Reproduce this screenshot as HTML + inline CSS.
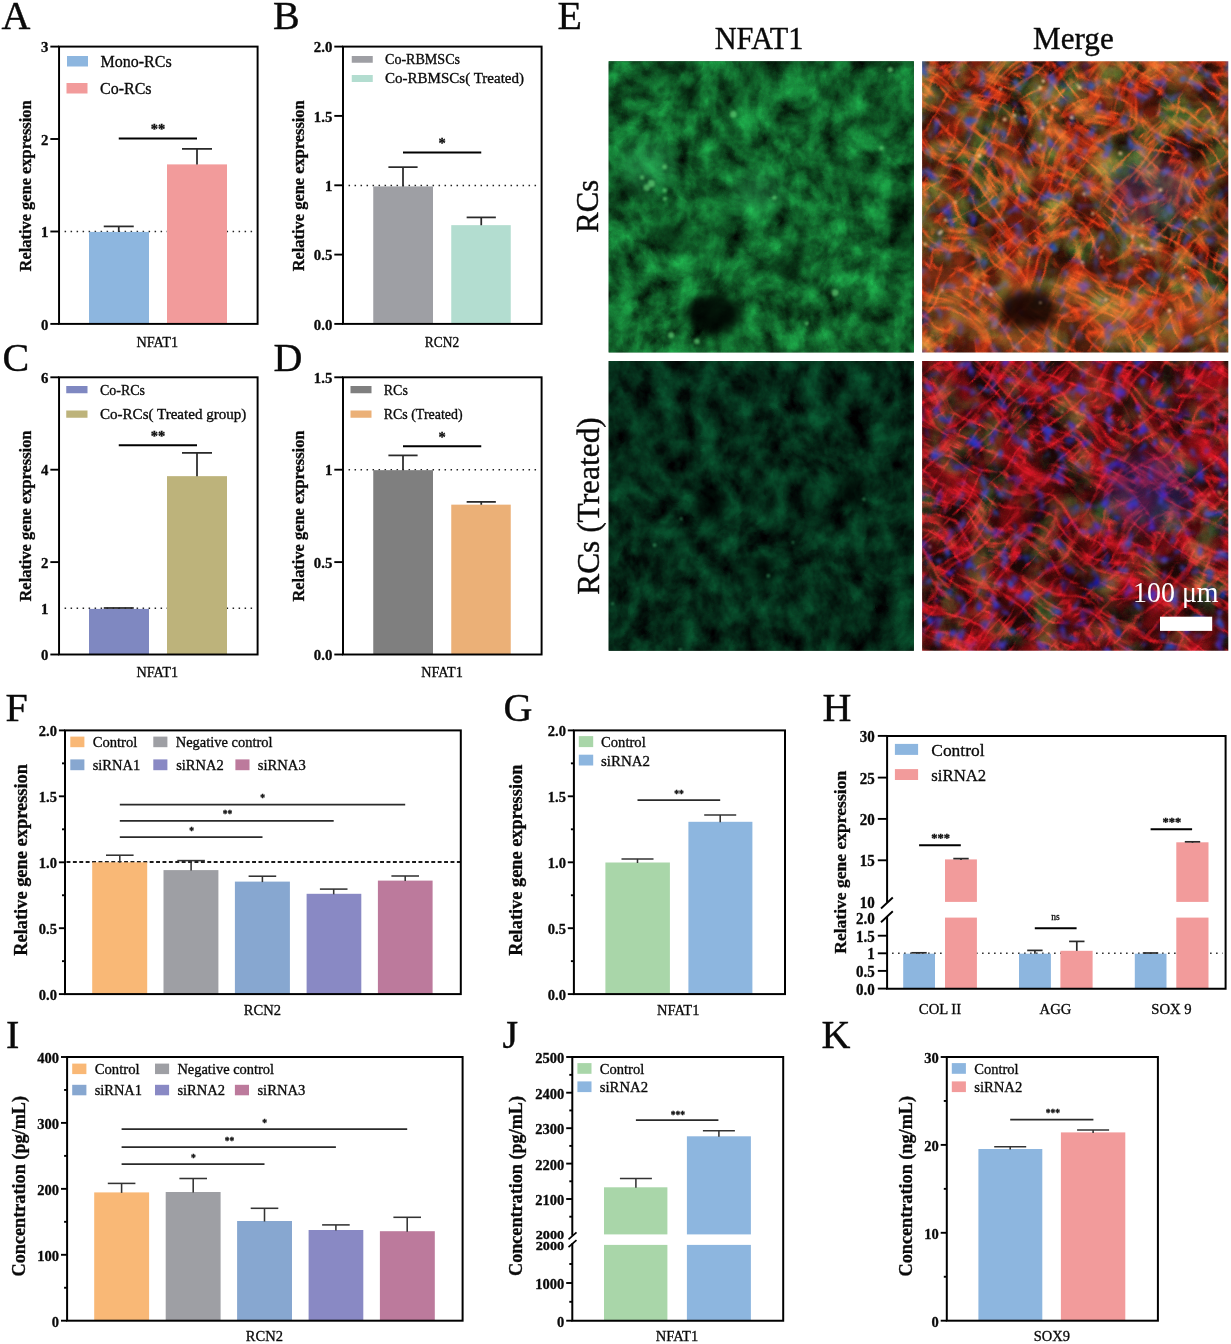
<!DOCTYPE html>
<html lang="en"><head><meta charset="utf-8"><title>Figure</title>
<style>html,body{margin:0;padding:0;background:#fff}svg{display:block;will-change:transform}text{font-family:'Liberation Serif','Noto Serif CJK SC',serif;white-space:pre}</style></head>
<body>
<svg width="1231" height="1344" viewBox="0 0 1231 1344">
<rect width="1231" height="1344" fill="#fff"/>
<text x="1.6" y="28.6" font-size="40" fill="#0a0a0a" stroke="#0a0a0a" stroke-width="0.4">A</text>
<text x="273" y="28.6" font-size="40" fill="#0a0a0a" stroke="#0a0a0a" stroke-width="0.4">B</text>
<text x="557.6" y="28.7" font-size="40" fill="#0a0a0a" stroke="#0a0a0a" stroke-width="0.4">E</text>
<text x="2.4" y="371.2" font-size="40" fill="#0a0a0a" stroke="#0a0a0a" stroke-width="0.4">C</text>
<text x="273.4" y="371.2" font-size="40" fill="#0a0a0a" stroke="#0a0a0a" stroke-width="0.4">D</text>
<text x="5.4" y="721" font-size="40" fill="#0a0a0a" stroke="#0a0a0a" stroke-width="0.4">F</text>
<text x="503.4" y="721" font-size="40" fill="#0a0a0a" stroke="#0a0a0a" stroke-width="0.4">G</text>
<text x="822.6" y="721.3" font-size="40" fill="#0a0a0a" stroke="#0a0a0a" stroke-width="0.4">H</text>
<text x="6" y="1047.7" font-size="40" fill="#0a0a0a" stroke="#0a0a0a" stroke-width="0.4">I</text>
<text x="502.6" y="1047.7" font-size="40" fill="#0a0a0a" stroke="#0a0a0a" stroke-width="0.4">J</text>
<text x="821.4" y="1047.7" font-size="40" fill="#0a0a0a" stroke="#0a0a0a" stroke-width="0.4">K</text>
<line x1="64.6" y1="231.5" x2="254.6" y2="231.5" stroke="#222" stroke-width="1.6" stroke-dasharray="1.5 4.5"/>
<rect x="89" y="231.9" width="60" height="92" fill="#8db6df"/>
<rect x="167" y="164.4" width="60" height="159.5" fill="#f29b9b"/>
<line x1="118.75" y1="226.4" x2="118.75" y2="232" stroke="#2a2a2a" stroke-width="1.75"/>
<line x1="103.75" y1="226.4" x2="133.75" y2="226.4" stroke="#2a2a2a" stroke-width="1.75"/>
<line x1="197" y1="148.9" x2="197" y2="164.5" stroke="#2a2a2a" stroke-width="1.75"/>
<line x1="182" y1="148.9" x2="212" y2="148.9" stroke="#2a2a2a" stroke-width="1.75"/>
<line x1="118.75" y1="138.5" x2="197" y2="138.5" stroke="#000" stroke-width="2.1"/>
<text x="158" y="133.55" font-size="14.5" font-weight="bold" text-anchor="middle" fill="#0a0a0a" stroke="#0a0a0a" stroke-width="0.32">**</text>
<rect x="59.05" y="46.6" width="198.55" height="277.3" fill="none" stroke="#000" stroke-width="1.95"/>
<line x1="50.35" y1="46.6" x2="59.05" y2="46.6" stroke="#000" stroke-width="1.9"/>
<text x="48.35" y="52.2" font-size="14.8" font-weight="bold" text-anchor="end" textLength="7.4" lengthAdjust="spacingAndGlyphs" fill="#0a0a0a" stroke="#0a0a0a" stroke-width="0.32">3</text>
<line x1="50.35" y1="139" x2="59.05" y2="139" stroke="#000" stroke-width="1.9"/>
<text x="48.35" y="144.6" font-size="14.8" font-weight="bold" text-anchor="end" textLength="7.4" lengthAdjust="spacingAndGlyphs" fill="#0a0a0a" stroke="#0a0a0a" stroke-width="0.32">2</text>
<line x1="50.35" y1="231.5" x2="59.05" y2="231.5" stroke="#000" stroke-width="1.9"/>
<text x="48.35" y="237.1" font-size="14.8" font-weight="bold" text-anchor="end" textLength="7.4" lengthAdjust="spacingAndGlyphs" fill="#0a0a0a" stroke="#0a0a0a" stroke-width="0.32">1</text>
<line x1="50.35" y1="323.9" x2="59.05" y2="323.9" stroke="#000" stroke-width="1.9"/>
<text x="48.35" y="329.5" font-size="14.8" font-weight="bold" text-anchor="end" textLength="7.4" lengthAdjust="spacingAndGlyphs" fill="#0a0a0a" stroke="#0a0a0a" stroke-width="0.32">0</text>
<rect x="67" y="56" width="21" height="10.5" fill="#8db6df"/>
<text x="100.5" y="67" font-size="16" fill="#0a0a0a" stroke="#0a0a0a" stroke-width="0.32">Mono-RCs</text>
<rect x="66.5" y="83" width="21" height="10.5" fill="#f29b9b"/>
<text x="100" y="94" font-size="16" fill="#0a0a0a" stroke="#0a0a0a" stroke-width="0.32">Co-RCs</text>
<text x="157.2" y="347" font-size="14" text-anchor="middle" textLength="41.6" lengthAdjust="spacingAndGlyphs" fill="#0a0a0a" stroke="#0a0a0a" stroke-width="0.32">NFAT1</text>
<text x="26.2" y="185.9" font-size="16.2" font-weight="bold" text-anchor="middle" textLength="171" lengthAdjust="spacingAndGlyphs" transform="rotate(-90 26.2 185.9)" fill="#0a0a0a" stroke="#0a0a0a" stroke-width="0.32" dominant-baseline="auto" dy="4.86">Relative gene expression</text>
<line x1="348.55" y1="185.5" x2="538.6" y2="185.5" stroke="#222" stroke-width="1.6" stroke-dasharray="1.5 4.5"/>
<rect x="373.25" y="186.4" width="59.75" height="137.5" fill="#9e9fa4"/>
<rect x="451.25" y="225.15" width="59.5" height="98.75" fill="#b3ddd0"/>
<line x1="403" y1="167.15" x2="403" y2="186.5" stroke="#2a2a2a" stroke-width="1.75"/>
<line x1="388.4" y1="167.15" x2="417.6" y2="167.15" stroke="#2a2a2a" stroke-width="1.75"/>
<line x1="481.25" y1="217.4" x2="481.25" y2="225.25" stroke="#2a2a2a" stroke-width="1.75"/>
<line x1="466.65" y1="217.4" x2="495.85" y2="217.4" stroke="#2a2a2a" stroke-width="1.75"/>
<line x1="403" y1="152.5" x2="481.25" y2="152.5" stroke="#000" stroke-width="2.1"/>
<text x="442" y="147.85" font-size="14.5" font-weight="bold" text-anchor="middle" fill="#0a0a0a" stroke="#0a0a0a" stroke-width="0.32">*</text>
<rect x="343" y="46.6" width="198.6" height="277.3" fill="none" stroke="#000" stroke-width="1.95"/>
<line x1="334.3" y1="46.6" x2="343" y2="46.6" stroke="#000" stroke-width="1.9"/>
<text x="332.3" y="52.2" font-size="14.8" font-weight="bold" text-anchor="end" textLength="18.5" lengthAdjust="spacingAndGlyphs" fill="#0a0a0a" stroke="#0a0a0a" stroke-width="0.32">2.0</text>
<line x1="334.3" y1="115.9" x2="343" y2="115.9" stroke="#000" stroke-width="1.9"/>
<text x="332.3" y="121.5" font-size="14.8" font-weight="bold" text-anchor="end" textLength="18.5" lengthAdjust="spacingAndGlyphs" fill="#0a0a0a" stroke="#0a0a0a" stroke-width="0.32">1.5</text>
<line x1="334.3" y1="185.3" x2="343" y2="185.3" stroke="#000" stroke-width="1.9"/>
<text x="332.3" y="190.9" font-size="14.8" font-weight="bold" text-anchor="end" textLength="7.4" lengthAdjust="spacingAndGlyphs" fill="#0a0a0a" stroke="#0a0a0a" stroke-width="0.32">1</text>
<line x1="334.3" y1="254.6" x2="343" y2="254.6" stroke="#000" stroke-width="1.9"/>
<text x="332.3" y="260.2" font-size="14.8" font-weight="bold" text-anchor="end" textLength="18.5" lengthAdjust="spacingAndGlyphs" fill="#0a0a0a" stroke="#0a0a0a" stroke-width="0.32">0.5</text>
<line x1="334.3" y1="323.9" x2="343" y2="323.9" stroke="#000" stroke-width="1.9"/>
<text x="332.3" y="329.5" font-size="14.8" font-weight="bold" text-anchor="end" textLength="18.5" lengthAdjust="spacingAndGlyphs" fill="#0a0a0a" stroke="#0a0a0a" stroke-width="0.32">0.0</text>
<rect x="351.75" y="56" width="21" height="6.75" fill="#9e9fa4"/>
<text x="385" y="64" font-size="14" textLength="75" lengthAdjust="spacingAndGlyphs" fill="#0a0a0a" stroke="#0a0a0a" stroke-width="0.32">Co-RBMSCs</text>
<rect x="351.75" y="75" width="21" height="7" fill="#b3ddd0"/>
<text x="385" y="83" font-size="14" textLength="139" lengthAdjust="spacingAndGlyphs" fill="#0a0a0a" stroke="#0a0a0a" stroke-width="0.32">Co-RBMSCs( Treated)</text>
<text x="442" y="347" font-size="14" text-anchor="middle" textLength="34.4" lengthAdjust="spacingAndGlyphs" fill="#0a0a0a" stroke="#0a0a0a" stroke-width="0.32">RCN2</text>
<text x="298.7" y="185.8" font-size="16.2" font-weight="bold" text-anchor="middle" textLength="171" lengthAdjust="spacingAndGlyphs" transform="rotate(-90 298.7 185.8)" fill="#0a0a0a" stroke="#0a0a0a" stroke-width="0.32" dominant-baseline="auto" dy="4.86">Relative gene expression</text>
<line x1="64.6" y1="608.3" x2="254.6" y2="608.3" stroke="#222" stroke-width="1.6" stroke-dasharray="1.5 4.5"/>
<rect x="89" y="608.9" width="60" height="45.6" fill="#7f88c1"/>
<rect x="167" y="476.15" width="60" height="178.35" fill="#bdb37b"/>
<line x1="118.75" y1="608" x2="118.75" y2="609" stroke="#2a2a2a" stroke-width="1.75"/>
<line x1="103.75" y1="608" x2="133.75" y2="608" stroke="#2a2a2a" stroke-width="1.75"/>
<line x1="197" y1="452.9" x2="197" y2="476.25" stroke="#2a2a2a" stroke-width="1.75"/>
<line x1="182" y1="452.9" x2="212" y2="452.9" stroke="#2a2a2a" stroke-width="1.75"/>
<line x1="118.75" y1="445.25" x2="197" y2="445.25" stroke="#000" stroke-width="2.1"/>
<text x="158" y="440.85" font-size="14.5" font-weight="bold" text-anchor="middle" fill="#0a0a0a" stroke="#0a0a0a" stroke-width="0.32">**</text>
<rect x="59.05" y="377.3" width="198.55" height="277.2" fill="none" stroke="#000" stroke-width="1.95"/>
<line x1="50.35" y1="377.3" x2="59.05" y2="377.3" stroke="#000" stroke-width="1.9"/>
<text x="48.35" y="382.9" font-size="14.8" font-weight="bold" text-anchor="end" textLength="7.4" lengthAdjust="spacingAndGlyphs" fill="#0a0a0a" stroke="#0a0a0a" stroke-width="0.32">6</text>
<line x1="50.35" y1="469.7" x2="59.05" y2="469.7" stroke="#000" stroke-width="1.9"/>
<text x="48.35" y="475.3" font-size="14.8" font-weight="bold" text-anchor="end" textLength="7.4" lengthAdjust="spacingAndGlyphs" fill="#0a0a0a" stroke="#0a0a0a" stroke-width="0.32">4</text>
<line x1="50.35" y1="562.1" x2="59.05" y2="562.1" stroke="#000" stroke-width="1.9"/>
<text x="48.35" y="567.7" font-size="14.8" font-weight="bold" text-anchor="end" textLength="7.4" lengthAdjust="spacingAndGlyphs" fill="#0a0a0a" stroke="#0a0a0a" stroke-width="0.32">2</text>
<line x1="50.35" y1="654.5" x2="59.05" y2="654.5" stroke="#000" stroke-width="1.9"/>
<text x="48.35" y="660.1" font-size="14.8" font-weight="bold" text-anchor="end" textLength="7.4" lengthAdjust="spacingAndGlyphs" fill="#0a0a0a" stroke="#0a0a0a" stroke-width="0.32">0</text>
<text x="48.35" y="613.9" font-size="14.8" font-weight="bold" text-anchor="end" textLength="7.4" lengthAdjust="spacingAndGlyphs" fill="#0a0a0a" stroke="#0a0a0a" stroke-width="0.32">1</text>
<rect x="66.25" y="386" width="21.25" height="7.25" fill="#7f88c1"/>
<text x="100" y="394.5" font-size="14" textLength="45" lengthAdjust="spacingAndGlyphs" fill="#0a0a0a" stroke="#0a0a0a" stroke-width="0.32">Co-RCs</text>
<rect x="66.25" y="410.5" width="21.25" height="7.25" fill="#bdb37b"/>
<text x="100" y="418.5" font-size="14" textLength="146.3" lengthAdjust="spacingAndGlyphs" fill="#0a0a0a" stroke="#0a0a0a" stroke-width="0.32">Co-RCs( Treated group)</text>
<text x="157.2" y="677" font-size="14" text-anchor="middle" textLength="41.6" lengthAdjust="spacingAndGlyphs" fill="#0a0a0a" stroke="#0a0a0a" stroke-width="0.32">NFAT1</text>
<text x="26.2" y="516" font-size="16.2" font-weight="bold" text-anchor="middle" textLength="171" lengthAdjust="spacingAndGlyphs" transform="rotate(-90 26.2 516)" fill="#0a0a0a" stroke="#0a0a0a" stroke-width="0.32" dominant-baseline="auto" dy="4.86">Relative gene expression</text>
<line x1="348.55" y1="469.75" x2="538.6" y2="469.75" stroke="#222" stroke-width="1.6" stroke-dasharray="1.5 4.5"/>
<rect x="373.25" y="470.15" width="59.75" height="184.35" fill="#7f7f7f"/>
<rect x="451.25" y="504.65" width="59.5" height="149.85" fill="#ebb077"/>
<line x1="403" y1="455.4" x2="403" y2="470.25" stroke="#2a2a2a" stroke-width="1.75"/>
<line x1="388.4" y1="455.4" x2="417.6" y2="455.4" stroke="#2a2a2a" stroke-width="1.75"/>
<line x1="481.25" y1="501.9" x2="481.25" y2="504.75" stroke="#2a2a2a" stroke-width="1.75"/>
<line x1="466.65" y1="501.9" x2="495.85" y2="501.9" stroke="#2a2a2a" stroke-width="1.75"/>
<line x1="403" y1="446.25" x2="481.25" y2="446.25" stroke="#000" stroke-width="2.1"/>
<text x="442" y="442.05" font-size="14.5" font-weight="bold" text-anchor="middle" fill="#0a0a0a" stroke="#0a0a0a" stroke-width="0.32">*</text>
<rect x="343" y="377.3" width="198.6" height="277.2" fill="none" stroke="#000" stroke-width="1.95"/>
<line x1="334.3" y1="377.3" x2="343" y2="377.3" stroke="#000" stroke-width="1.9"/>
<text x="332.3" y="382.9" font-size="14.8" font-weight="bold" text-anchor="end" textLength="18.5" lengthAdjust="spacingAndGlyphs" fill="#0a0a0a" stroke="#0a0a0a" stroke-width="0.32">1.5</text>
<line x1="334.3" y1="469.7" x2="343" y2="469.7" stroke="#000" stroke-width="1.9"/>
<text x="332.3" y="475.3" font-size="14.8" font-weight="bold" text-anchor="end" textLength="7.4" lengthAdjust="spacingAndGlyphs" fill="#0a0a0a" stroke="#0a0a0a" stroke-width="0.32">1</text>
<line x1="334.3" y1="562.1" x2="343" y2="562.1" stroke="#000" stroke-width="1.9"/>
<text x="332.3" y="567.7" font-size="14.8" font-weight="bold" text-anchor="end" textLength="18.5" lengthAdjust="spacingAndGlyphs" fill="#0a0a0a" stroke="#0a0a0a" stroke-width="0.32">0.5</text>
<line x1="334.3" y1="654.5" x2="343" y2="654.5" stroke="#000" stroke-width="1.9"/>
<text x="332.3" y="660.1" font-size="14.8" font-weight="bold" text-anchor="end" textLength="18.5" lengthAdjust="spacingAndGlyphs" fill="#0a0a0a" stroke="#0a0a0a" stroke-width="0.32">0.0</text>
<rect x="350.5" y="386" width="21" height="7.25" fill="#7f7f7f"/>
<text x="383.75" y="394.5" font-size="14" fill="#0a0a0a" stroke="#0a0a0a" stroke-width="0.32">RCs</text>
<rect x="350.5" y="410.5" width="21" height="7.25" fill="#ebb077"/>
<text x="383.75" y="418.5" font-size="14" textLength="78.8" lengthAdjust="spacingAndGlyphs" fill="#0a0a0a" stroke="#0a0a0a" stroke-width="0.32">RCs (Treated)</text>
<text x="442" y="677" font-size="14" text-anchor="middle" textLength="41.6" lengthAdjust="spacingAndGlyphs" fill="#0a0a0a" stroke="#0a0a0a" stroke-width="0.32">NFAT1</text>
<text x="298.7" y="516" font-size="16.2" font-weight="bold" text-anchor="middle" textLength="171" lengthAdjust="spacingAndGlyphs" transform="rotate(-90 298.7 516)" fill="#0a0a0a" stroke="#0a0a0a" stroke-width="0.32" dominant-baseline="auto" dy="4.86">Relative gene expression</text>
<defs>
<filter id="fTL" filterUnits="userSpaceOnUse" x="564.6" y="17.2" width="393.3" height="379.2" color-interpolation-filters="sRGB">
<feTurbulence type="fractalNoise" baseFrequency="0.046 0.040" numOctaves="4" seed="11" result="n"/>
<feColorMatrix in="n" type="matrix" values="0.15 0 0 0 -0.01 0.86 0 0 0 -0.06 0.38 0 0 0 -0.03 0 0 0 0 1" result="c"/>
<feTurbulence type="fractalNoise" baseFrequency="0.011" numOctaves="2" seed="14" result="w"/>
<feDisplacementMap in="c" in2="w" scale="24" xChannelSelector="R" yChannelSelector="G" result="d"/>
<feTurbulence type="fractalNoise" baseFrequency="0.85" numOctaves="1" seed="18" result="g"/>
<feColorMatrix in="g" type="matrix" values="0.02 0 0 0 -0.01 0 0.14 0 0 -0.07 0 0 0.06 0 -0.03 0 0 0 0 1" result="gg"/>
<feComposite in="d" in2="gg" operator="arithmetic" k1="0" k2="1" k3="1" k4="0"/>
</filter>
<filter id="fBL" filterUnits="userSpaceOnUse" x="564.6" y="317.1" width="393.3" height="377.7" color-interpolation-filters="sRGB">
<feTurbulence type="fractalNoise" baseFrequency="0.046 0.040" numOctaves="4" seed="29" result="n"/>
<feColorMatrix in="n" type="matrix" values="0.05 0 0 0 -0.01 0.53 0 0 0 -0.1 0.29 0 0 0 -0.05 0 0 0 0 1" result="c"/>
<feTurbulence type="fractalNoise" baseFrequency="0.011" numOctaves="2" seed="32" result="w"/>
<feDisplacementMap in="c" in2="w" scale="24" xChannelSelector="R" yChannelSelector="G" result="d"/>
<feTurbulence type="fractalNoise" baseFrequency="0.85" numOctaves="1" seed="36" result="g"/>
<feColorMatrix in="g" type="matrix" values="0.01 0 0 0 -0 0 0.07 0 0 -0.04 0 0 0.04 0 -0.02 0 0 0 0 1" result="gg"/>
<feComposite in="d" in2="gg" operator="arithmetic" k1="0" k2="1" k3="1" k4="0"/>
</filter>
<filter id="fTRd" filterUnits="userSpaceOnUse" x="878.1" y="17.2" width="394.2" height="379.2" color-interpolation-filters="sRGB">
<feTurbulence type="fractalNoise" baseFrequency="0.026 0.030" numOctaves="4" seed="17" result="n"/>
<feColorMatrix in="n" type="matrix" values="1.01 0 0 0 -0.3 0.2 0 0 0 -0.06 0.08 0 0 0 -0.03 0 0 0 0 1" result="c"/>
<feTurbulence type="fractalNoise" baseFrequency="0.011" numOctaves="2" seed="20" result="w"/>
<feDisplacementMap in="c" in2="w" scale="34" xChannelSelector="R" yChannelSelector="G" result="d"/>
<feTurbulence type="fractalNoise" baseFrequency="0.85" numOctaves="1" seed="24" result="g"/>
<feColorMatrix in="g" type="matrix" values="0.14 0 0 0 -0.07 0 0.03 0 0 -0.01 0 0 0.01 0 -0.01 0 0 0 0 1" result="gg"/>
<feComposite in="d" in2="gg" operator="arithmetic" k1="0" k2="1" k3="1" k4="0"/>
</filter>
<filter id="fTRg" filterUnits="userSpaceOnUse" x="878.1" y="17.2" width="394.2" height="379.2" color-interpolation-filters="sRGB">
<feTurbulence type="fractalNoise" baseFrequency="0.031 0.028" numOctaves="4" seed="11" result="n"/>
<feColorMatrix in="n" type="matrix" values="0.43 0 0 0 -0.15 1 0 0 0 -0.36 0.38 0 0 0 -0.14 0 0 0 0 1" result="c"/>
<feTurbulence type="fractalNoise" baseFrequency="0.011" numOctaves="2" seed="14" result="w"/>
<feDisplacementMap in="c" in2="w" scale="34" xChannelSelector="R" yChannelSelector="G" result="d"/>
<feTurbulence type="fractalNoise" baseFrequency="0.85" numOctaves="1" seed="18" result="g"/>
<feColorMatrix in="g" type="matrix" values="0.05 0 0 0 -0.03 0 0.13 0 0 -0.06 0 0 0.05 0 -0.02 0 0 0 0 1" result="gg"/>
<feComposite in="d" in2="gg" operator="arithmetic" k1="0" k2="1" k3="1" k4="0"/>
</filter>
<filter id="fTRr1" filterUnits="userSpaceOnUse" x="840.2" y="-28.2" width="470" height="470" color-interpolation-filters="sRGB">
<feTurbulence type="turbulence" baseFrequency="0.018 0.062" numOctaves="3" seed="32" result="t"/>
<feColorMatrix in="t" type="matrix" values="-3.3 0 0 0 0.93 -0.56 0 0 0 0.16 -0.17 0 0 0 0.05 0 0 0 0 1" result="c"/>
<feTurbulence type="fractalNoise" baseFrequency="0.013" numOctaves="2" seed="37" result="w"/>
<feDisplacementMap in="c" in2="w" scale="40" xChannelSelector="R" yChannelSelector="G"/>
</filter>
<filter id="fTRr2" filterUnits="userSpaceOnUse" x="840.2" y="-28.2" width="470" height="470" color-interpolation-filters="sRGB">
<feTurbulence type="turbulence" baseFrequency="0.018 0.062" numOctaves="3" seed="57" result="t"/>
<feColorMatrix in="t" type="matrix" values="-3.3 0 0 0 0.83 -0.49 0 0 0 0.12 -0.17 0 0 0 0.04 0 0 0 0 1" result="c"/>
<feTurbulence type="fractalNoise" baseFrequency="0.013" numOctaves="2" seed="62" result="w"/>
<feDisplacementMap in="c" in2="w" scale="40" xChannelSelector="R" yChannelSelector="G"/>
</filter>
<filter id="fTRb" filterUnits="userSpaceOnUse" x="878.1" y="17.2" width="394.2" height="379.2" color-interpolation-filters="sRGB">
<feTurbulence type="fractalNoise" baseFrequency="0.088 0.078" numOctaves="2" seed="51" result="n"/>
<feColorMatrix in="n" type="matrix" values="0.5 0 0 0 -0.01 0 0.5 0 0 0.09 0 0 0.3 0 0.57 0 0 4.4 0 -2.44" result="c"/>
<feTurbulence type="fractalNoise" baseFrequency="0.02" numOctaves="2" seed="56" result="w"/>
<feDisplacementMap in="c" in2="w" scale="14" xChannelSelector="R" yChannelSelector="G" result="d"/>
<feGaussianBlur in="d" stdDeviation="1.7"/>
</filter>
<filter id="fBRd" filterUnits="userSpaceOnUse" x="878.1" y="317.1" width="394.2" height="377.7" color-interpolation-filters="sRGB">
<feTurbulence type="fractalNoise" baseFrequency="0.026 0.030" numOctaves="4" seed="23" result="n"/>
<feColorMatrix in="n" type="matrix" values="1.05 0 0 0 -0.31 0.06 0 0 0 -0.02 0.12 0 0 0 -0.04 0 0 0 0 1" result="c"/>
<feTurbulence type="fractalNoise" baseFrequency="0.011" numOctaves="2" seed="26" result="w"/>
<feDisplacementMap in="c" in2="w" scale="34" xChannelSelector="R" yChannelSelector="G" result="d"/>
<feTurbulence type="fractalNoise" baseFrequency="0.85" numOctaves="1" seed="30" result="g"/>
<feColorMatrix in="g" type="matrix" values="0.14 0 0 0 -0.07 0 0.01 0 0 -0 0 0 0.02 0 -0.01 0 0 0 0 1" result="gg"/>
<feComposite in="d" in2="gg" operator="arithmetic" k1="0" k2="1" k3="1" k4="0"/>
</filter>
<filter id="fBRg" filterUnits="userSpaceOnUse" x="878.1" y="317.1" width="394.2" height="377.7" color-interpolation-filters="sRGB">
<feTurbulence type="fractalNoise" baseFrequency="0.031 0.028" numOctaves="4" seed="29" result="n"/>
<feColorMatrix in="n" type="matrix" values="0.28 0 0 0 -0.13 0.8 0 0 0 -0.36 0.32 0 0 0 -0.14 0 0 0 0 1" result="c"/>
<feTurbulence type="fractalNoise" baseFrequency="0.011" numOctaves="2" seed="32" result="w"/>
<feDisplacementMap in="c" in2="w" scale="34" xChannelSelector="R" yChannelSelector="G" result="d"/>
<feTurbulence type="fractalNoise" baseFrequency="0.85" numOctaves="1" seed="36" result="g"/>
<feColorMatrix in="g" type="matrix" values="0.06 0 0 0 -0.03 0 0.16 0 0 -0.08 0 0 0.06 0 -0.03 0 0 0 0 1" result="gg"/>
<feComposite in="d" in2="gg" operator="arithmetic" k1="0" k2="1" k3="1" k4="0"/>
</filter>
<filter id="fBRr1" filterUnits="userSpaceOnUse" x="840.2" y="270.95" width="470" height="470" color-interpolation-filters="sRGB">
<feTurbulence type="turbulence" baseFrequency="0.018 0.062" numOctaves="3" seed="72" result="t"/>
<feColorMatrix in="t" type="matrix" values="-3.13 0 0 0 0.85 -0.23 0 0 0 0.06 -0.36 0 0 0 0.1 0 0 0 0 1" result="c"/>
<feTurbulence type="fractalNoise" baseFrequency="0.013" numOctaves="2" seed="77" result="w"/>
<feDisplacementMap in="c" in2="w" scale="40" xChannelSelector="R" yChannelSelector="G"/>
</filter>
<filter id="fBRr2" filterUnits="userSpaceOnUse" x="840.2" y="270.95" width="470" height="470" color-interpolation-filters="sRGB">
<feTurbulence type="turbulence" baseFrequency="0.018 0.062" numOctaves="3" seed="93" result="t"/>
<feColorMatrix in="t" type="matrix" values="-3.13 0 0 0 0.76 -0.2 0 0 0 0.05 -0.36 0 0 0 0.09 0 0 0 0 1" result="c"/>
<feTurbulence type="fractalNoise" baseFrequency="0.013" numOctaves="2" seed="98" result="w"/>
<feDisplacementMap in="c" in2="w" scale="40" xChannelSelector="R" yChannelSelector="G"/>
</filter>
<filter id="fBRb" filterUnits="userSpaceOnUse" x="878.1" y="317.1" width="394.2" height="377.7" color-interpolation-filters="sRGB">
<feTurbulence type="fractalNoise" baseFrequency="0.088 0.078" numOctaves="2" seed="88" result="n"/>
<feColorMatrix in="n" type="matrix" values="0.5 0 0 0 -0.05 0 0.5 0 0 -0.01 0 0 0.3 0 0.59 0 0 4.4 0 -2.42" result="c"/>
<feTurbulence type="fractalNoise" baseFrequency="0.02" numOctaves="2" seed="93" result="w"/>
<feDisplacementMap in="c" in2="w" scale="14" xChannelSelector="R" yChannelSelector="G" result="d"/>
<feGaussianBlur in="d" stdDeviation="1.7"/>
</filter>
<filter id="blur12" x="-50%" y="-50%" width="200%" height="200%"><feGaussianBlur stdDeviation="9"/></filter>
<filter id="blur1" x="-5%" y="-5%" width="110%" height="110%"><feGaussianBlur stdDeviation="1.1"/></filter>
<filter id="blur6" x="-50%" y="-50%" width="200%" height="200%"><feGaussianBlur stdDeviation="5"/></filter>
<clipPath id="cpTL"><rect x="608.6" y="61.2" width="305.3" height="291.2"/></clipPath>
<clipPath id="cpTR"><rect x="922.1" y="61.2" width="306.2" height="291.2"/></clipPath>
<clipPath id="cpBL"><rect x="608.6" y="361.1" width="305.3" height="289.7"/></clipPath>
<clipPath id="cpBR"><rect x="922.1" y="361.1" width="306.2" height="289.7"/></clipPath>
</defs>
<g clip-path="url(#cpTL)">
<rect x="608.6" y="61.2" width="305.3" height="291.2" fill="#06351a"/>
<rect x="564.6" y="17.2" width="393.3" height="379.2" fill="#000" filter="url(#fTL)"/>
<ellipse cx="713.93" cy="313.09" rx="27" ry="19" fill="#000" opacity="0.85" filter="url(#blur6)"/>
<ellipse cx="648.29" cy="166.03" rx="26" ry="24" fill="#3fd07a" opacity="0.3" filter="url(#blur12)"/>
<ellipse cx="758.2" cy="192.24" rx="24" ry="18" fill="#3fd07a" opacity="0.28" filter="url(#blur12)"/>
<ellipse cx="904.74" cy="212.62" rx="14" ry="40" fill="#000" opacity="0.4" filter="url(#blur12)"/>
<ellipse cx="669.66" cy="235.92" rx="13" ry="11" fill="#000" opacity="0.5" filter="url(#blur6)"/>
<ellipse cx="782.62" cy="267.95" rx="12" ry="10" fill="#000" opacity="0.45" filter="url(#blur6)"/>
<ellipse cx="687.98" cy="93.23" rx="12" ry="9" fill="#000" opacity="0.45" filter="url(#blur6)"/>
<g fill="#6fe584" opacity="0.6" filter="url(#blur1)">
<circle cx="835.07" cy="292.76" r="3.5"/>
<circle cx="890.19" cy="69.65" r="2.64"/>
<circle cx="806.73" cy="323.54" r="2"/>
<circle cx="642.07" cy="177.38" r="2.25"/>
<circle cx="733.21" cy="114.22" r="3.36"/>
<circle cx="664.63" cy="190.4" r="2.03"/>
<circle cx="651.5" cy="183.64" r="3.57"/>
<circle cx="696.92" cy="341.18" r="2.77"/>
<circle cx="671.12" cy="335.21" r="3.04"/>
<circle cx="881.46" cy="148.21" r="2.45"/>
<circle cx="646.86" cy="187.49" r="3.27"/>
<circle cx="774.34" cy="197.74" r="2.35"/>
<circle cx="665.01" cy="198.8" r="2.12"/>
<circle cx="664.65" cy="166.7" r="2.53"/>
</g>
</g>
<g clip-path="url(#cpBL)">
<rect x="608.6" y="361.1" width="305.3" height="289.7" fill="#042512"/>
<rect x="564.6" y="317.1" width="393.3" height="377.7" fill="#000" filter="url(#fBL)"/>
<ellipse cx="852.84" cy="491.47" rx="13" ry="17" fill="#000" opacity="0.55" filter="url(#blur6)"/>
<ellipse cx="709.35" cy="505.95" rx="15" ry="17" fill="#000" opacity="0.45" filter="url(#blur6)"/>
<ellipse cx="761.25" cy="569.68" rx="15" ry="13" fill="#000" opacity="0.45" filter="url(#blur6)"/>
<g fill="#4fc880" opacity="0.55" filter="url(#blur1)">
<circle cx="681.25" cy="518.76" r="1.5"/>
<circle cx="792.98" cy="542.37" r="1.25"/>
<circle cx="612.62" cy="603.71" r="1.41"/>
<circle cx="680.14" cy="649.54" r="1.58"/>
<circle cx="863.97" cy="499.1" r="1.71"/>
<circle cx="654.58" cy="545.02" r="1.89"/>
<circle cx="768.33" cy="575.84" r="1.74"/>
</g>
</g>
<g clip-path="url(#cpTR)" style="isolation:isolate">
<rect x="922.1" y="61.2" width="306.2" height="291.2" fill="#1c0805"/>
<rect x="878.1" y="17.2" width="394.2" height="379.2" fill="#000" filter="url(#fTRd)" style="mix-blend-mode:screen"/>
<rect x="878.1" y="17.2" width="394.2" height="379.2" fill="#000" filter="url(#fTRg)" style="mix-blend-mode:screen"/>
<rect x="840.2" y="-28.2" width="470" height="470" fill="#000" filter="url(#fTRr1)" transform="rotate(38 1075.2 206.8)" style="mix-blend-mode:screen"/>
<rect x="840.2" y="-28.2" width="470" height="470" fill="#000" filter="url(#fTRr2)" transform="rotate(-52 1075.2 206.8)" style="mix-blend-mode:screen"/>
<rect x="878.1" y="17.2" width="394.2" height="379.2" fill="#000" filter="url(#fTRb)" opacity="0.78"/>
<ellipse cx="1075.2" cy="311.63" rx="150" ry="40" fill="#ff7a30" opacity="0.2" filter="url(#blur12)"/>
<ellipse cx="1028.96" cy="309.59" rx="29" ry="20" fill="#100" opacity="0.85" filter="url(#blur6)"/>
<ellipse cx="1151.75" cy="192.24" rx="40" ry="34" fill="#5a50b0" opacity="0.25" filter="url(#blur12)"/>
<ellipse cx="1219.11" cy="212.62" rx="14" ry="40" fill="#200" opacity="0.35" filter="url(#blur12)"/>
<ellipse cx="983.34" cy="235.92" rx="13" ry="11" fill="#200" opacity="0.45" filter="url(#blur6)"/>
<ellipse cx="946.6" cy="276.69" rx="28" ry="38" fill="#ff7a30" opacity="0.22" filter="url(#blur12)"/>
<ellipse cx="1096.63" cy="267.95" rx="12" ry="10" fill="#200" opacity="0.4" filter="url(#blur6)"/>
<g fill="#ffd2a0" opacity="0.8" filter="url(#blur1)">
<circle cx="1176.1" cy="253.79" r="1.09"/>
<circle cx="1040.34" cy="145.26" r="1.46"/>
<circle cx="1084.01" cy="193.81" r="1.4"/>
<circle cx="941.51" cy="231.4" r="1.47"/>
<circle cx="1144.4" cy="254.25" r="1.1"/>
<circle cx="1040.41" cy="302.76" r="1.11"/>
<circle cx="939.77" cy="233.17" r="1.65"/>
<circle cx="1100.17" cy="102.59" r="1.06"/>
<circle cx="1071.73" cy="117.65" r="1.95"/>
<circle cx="1000.6" cy="88.9" r="1.56"/>
<circle cx="1052.58" cy="107.3" r="1.6"/>
<circle cx="1120.37" cy="153.28" r="1.84"/>
<circle cx="942.35" cy="290.5" r="1.28"/>
<circle cx="1169.55" cy="310.68" r="1.91"/>
<circle cx="1142.75" cy="225.87" r="1.34"/>
<circle cx="1141.79" cy="245.86" r="1.71"/>
<circle cx="1014.59" cy="115.53" r="1.66"/>
<circle cx="983.89" cy="284.4" r="1.3"/>
<circle cx="1132.36" cy="236.27" r="1.44"/>
<circle cx="1113.75" cy="209.71" r="1.08"/>
<circle cx="1039.96" cy="111.8" r="1.11"/>
<circle cx="1183.47" cy="277.58" r="1.49"/>
<circle cx="1034.49" cy="106.95" r="1.14"/>
<circle cx="1048.02" cy="121.78" r="1.33"/>
<circle cx="1040.05" cy="87.71" r="1.88"/>
<circle cx="1042.35" cy="128.19" r="1.43"/>
<circle cx="925.16" cy="244.04" r="1.47"/>
<circle cx="990.72" cy="294.35" r="1.65"/>
<circle cx="1079.63" cy="87.53" r="1.93"/>
<circle cx="1133.05" cy="223.97" r="1.05"/>
<circle cx="945.24" cy="219.88" r="1.61"/>
<circle cx="1160.48" cy="190.02" r="1.98"/>
<circle cx="1105.88" cy="299.77" r="1.57"/>
<circle cx="1092.68" cy="213.62" r="1.65"/>
<circle cx="1025.67" cy="116.26" r="1.32"/>
<circle cx="1045.46" cy="245.34" r="1.08"/>
<circle cx="979.59" cy="155.67" r="1.85"/>
<circle cx="1043.33" cy="81.01" r="1.9"/>
<circle cx="955.57" cy="202.49" r="1.38"/>
<circle cx="1151.11" cy="249.5" r="1.38"/>
<circle cx="1082.44" cy="262.31" r="1.36"/>
<circle cx="1101.27" cy="257.2" r="1.2"/>
<circle cx="1077.44" cy="85.07" r="1.16"/>
<circle cx="1195.72" cy="217.78" r="1.62"/>
<circle cx="1224.24" cy="141.02" r="1.83"/>
<circle cx="1004.61" cy="119.39" r="1.97"/>
</g>
</g>
<g clip-path="url(#cpBR)" style="isolation:isolate">
<rect x="922.1" y="361.1" width="306.2" height="289.7" fill="#1a0405"/>
<rect x="878.1" y="317.1" width="394.2" height="377.7" fill="#000" filter="url(#fBRd)" style="mix-blend-mode:screen"/>
<rect x="878.1" y="317.1" width="394.2" height="377.7" fill="#000" filter="url(#fBRg)" style="mix-blend-mode:screen"/>
<rect x="840.2" y="270.95" width="470" height="470" fill="#000" filter="url(#fBRr1)" transform="rotate(32 1075.2 505.95)" style="mix-blend-mode:screen"/>
<rect x="840.2" y="270.95" width="470" height="470" fill="#000" filter="url(#fBRr2)" transform="rotate(-48 1075.2 505.95)" style="mix-blend-mode:screen"/>
<rect x="878.1" y="317.1" width="394.2" height="377.7" fill="#000" filter="url(#fBRb)" opacity="0.85"/>
<ellipse cx="1148.69" cy="491.47" rx="42" ry="38" fill="#3a34a8" opacity="0.36" filter="url(#blur12)"/>
<ellipse cx="1032.33" cy="505.95" rx="24" ry="20" fill="#200" opacity="0.4" filter="url(#blur12)"/>
<ellipse cx="1075.2" cy="575.48" rx="22" ry="16" fill="#200" opacity="0.35" filter="url(#blur12)"/>
<ellipse cx="1090.51" cy="395.86" rx="38" ry="12" fill="#ff5030" opacity="0.22" filter="url(#blur12)"/>
<g fill="#ffa880" opacity="0.75" filter="url(#blur1)">
<circle cx="1085.48" cy="369.83" r="0.97"/>
<circle cx="1213.55" cy="463.35" r="1.08"/>
<circle cx="1210.2" cy="459.48" r="1.11"/>
<circle cx="929.95" cy="546.71" r="1.11"/>
<circle cx="1077.88" cy="426.14" r="1.49"/>
<circle cx="1191.57" cy="386.22" r="1.38"/>
<circle cx="1077.02" cy="412.61" r="1.28"/>
<circle cx="1219.05" cy="492.12" r="1.46"/>
<circle cx="1062.12" cy="411.99" r="1.24"/>
<circle cx="1201.81" cy="522.47" r="0.96"/>
<circle cx="1177.44" cy="488.49" r="1.46"/>
<circle cx="1140.06" cy="416.65" r="1.41"/>
<circle cx="1065.45" cy="426.1" r="1.16"/>
<circle cx="1209.08" cy="495.14" r="1.08"/>
<circle cx="1110.55" cy="429.88" r="1.16"/>
<circle cx="1220.85" cy="494.09" r="0.97"/>
<circle cx="1009.58" cy="556.71" r="1.16"/>
<circle cx="1225.24" cy="485.1" r="1.23"/>
</g>
</g>
<text x="759" y="48.95" font-size="32" text-anchor="middle" textLength="88.7" lengthAdjust="spacingAndGlyphs" fill="#0a0a0a" stroke="#0a0a0a" stroke-width="0.4">NFAT1</text>
<text x="1073.4" y="48.95" font-size="32" text-anchor="middle" textLength="80.7" lengthAdjust="spacingAndGlyphs" fill="#0a0a0a" stroke="#0a0a0a" stroke-width="0.4">Merge</text>
<text x="598.2" y="206.3" font-size="32" text-anchor="middle" textLength="52.8" lengthAdjust="spacingAndGlyphs" transform="rotate(-90 598.2 206.3)" fill="#0a0a0a" stroke="#0a0a0a" stroke-width="0.4">RCs</text>
<text x="599" y="506" font-size="32" text-anchor="middle" textLength="177.6" lengthAdjust="spacingAndGlyphs" transform="rotate(-90 599 506)" fill="#0a0a0a" stroke="#0a0a0a" stroke-width="0.4">RCs (Treated)</text>
<text x="1175.8" y="602.2" font-size="28.5" text-anchor="middle" textLength="85.6" lengthAdjust="spacingAndGlyphs" fill="#fff" stroke="#fff" stroke-width="0">100 μm</text>
<rect x="1160" y="616.7" width="52.2" height="14.2" fill="#fff"/>
<line x1="66.5" y1="862.1" x2="460.8" y2="862.1" stroke="#1a1a1a" stroke-width="2" stroke-dasharray="3.9 2.5"/>
<rect x="92.2" y="862.3" width="55" height="131.8" fill="#f9b876"/>
<rect x="163.5" y="870.1" width="54.9" height="124" fill="#9e9fa4"/>
<rect x="234.9" y="881.6" width="55" height="112.5" fill="#87a7d0"/>
<rect x="306.6" y="893.8" width="54.7" height="100.3" fill="#8989c4"/>
<rect x="377.9" y="880.6" width="54.7" height="113.5" fill="#bc7a9c"/>
<line x1="119.8" y1="855.2" x2="119.8" y2="862.8" stroke="#333" stroke-width="1.55"/>
<line x1="106" y1="855.2" x2="133.6" y2="855.2" stroke="#333" stroke-width="1.55"/>
<line x1="191.1" y1="860.6" x2="191.1" y2="870.6" stroke="#333" stroke-width="1.55"/>
<line x1="177.3" y1="860.6" x2="204.9" y2="860.6" stroke="#333" stroke-width="1.55"/>
<line x1="262.4" y1="876.2" x2="262.4" y2="882.1" stroke="#333" stroke-width="1.55"/>
<line x1="248.6" y1="876.2" x2="276.2" y2="876.2" stroke="#333" stroke-width="1.55"/>
<line x1="333.7" y1="889.1" x2="333.7" y2="894.3" stroke="#333" stroke-width="1.55"/>
<line x1="319.9" y1="889.1" x2="347.5" y2="889.1" stroke="#333" stroke-width="1.55"/>
<line x1="405.2" y1="876" x2="405.2" y2="881.1" stroke="#333" stroke-width="1.55"/>
<line x1="391.4" y1="876" x2="419" y2="876" stroke="#333" stroke-width="1.55"/>
<line x1="119.8" y1="804.5" x2="405.2" y2="804.5" stroke="#2a2a2a" stroke-width="1.75"/>
<line x1="119.8" y1="820.8" x2="333.7" y2="820.8" stroke="#2a2a2a" stroke-width="1.75"/>
<line x1="119.8" y1="837.2" x2="262.5" y2="837.2" stroke="#2a2a2a" stroke-width="1.75"/>
<text x="262.6" y="801.3" font-size="9.5" font-weight="bold" text-anchor="middle" fill="#0a0a0a" stroke="#0a0a0a" stroke-width="0.32">*</text>
<text x="227.4" y="817.4" font-size="9.5" font-weight="bold" text-anchor="middle" fill="#0a0a0a" stroke="#0a0a0a" stroke-width="0.32">**</text>
<text x="191.6" y="833.7" font-size="9.5" font-weight="bold" text-anchor="middle" fill="#0a0a0a" stroke="#0a0a0a" stroke-width="0.32">*</text>
<rect x="65" y="730.4" width="395.8" height="263.7" fill="none" stroke="#000" stroke-width="2"/>
<line x1="58.9" y1="730.4" x2="65" y2="730.4" stroke="#000" stroke-width="1.9"/>
<text x="57" y="736.3" font-size="15.6" font-weight="bold" text-anchor="end" textLength="18.14" lengthAdjust="spacingAndGlyphs" fill="#0a0a0a" stroke="#0a0a0a" stroke-width="0.32">2.0</text>
<line x1="58.9" y1="796.3" x2="65" y2="796.3" stroke="#000" stroke-width="1.9"/>
<text x="57" y="802.2" font-size="15.6" font-weight="bold" text-anchor="end" textLength="18.14" lengthAdjust="spacingAndGlyphs" fill="#0a0a0a" stroke="#0a0a0a" stroke-width="0.32">1.5</text>
<line x1="58.9" y1="862.3" x2="65" y2="862.3" stroke="#000" stroke-width="1.9"/>
<text x="57" y="868.2" font-size="15.6" font-weight="bold" text-anchor="end" textLength="18.14" lengthAdjust="spacingAndGlyphs" fill="#0a0a0a" stroke="#0a0a0a" stroke-width="0.32">1.0</text>
<line x1="58.9" y1="928.2" x2="65" y2="928.2" stroke="#000" stroke-width="1.9"/>
<text x="57" y="934.1" font-size="15.6" font-weight="bold" text-anchor="end" textLength="18.14" lengthAdjust="spacingAndGlyphs" fill="#0a0a0a" stroke="#0a0a0a" stroke-width="0.32">0.5</text>
<line x1="58.9" y1="994.1" x2="65" y2="994.1" stroke="#000" stroke-width="1.9"/>
<text x="57" y="1000" font-size="15.6" font-weight="bold" text-anchor="end" textLength="18.14" lengthAdjust="spacingAndGlyphs" fill="#0a0a0a" stroke="#0a0a0a" stroke-width="0.32">0.0</text>
<line x1="62" y1="763.35" x2="65" y2="763.35" stroke="#000" stroke-width="1.9"/>
<line x1="62" y1="829.3" x2="65" y2="829.3" stroke="#000" stroke-width="1.9"/>
<line x1="62" y1="895.25" x2="65" y2="895.25" stroke="#000" stroke-width="1.9"/>
<line x1="62" y1="961.15" x2="65" y2="961.15" stroke="#000" stroke-width="1.9"/>
<rect x="70.3" y="736.6" width="14.1" height="10.6" fill="#f9b876"/>
<text x="92.7" y="747.1" font-size="14.5" textLength="44.6" lengthAdjust="spacingAndGlyphs" fill="#0a0a0a" stroke="#0a0a0a" stroke-width="0.32">Control</text>
<rect x="153.3" y="736.6" width="14.1" height="10.6" fill="#9e9fa4"/>
<text x="175.7" y="747.1" font-size="14.5" textLength="96.9" lengthAdjust="spacingAndGlyphs" fill="#0a0a0a" stroke="#0a0a0a" stroke-width="0.32">Negative control</text>
<rect x="70.3" y="759.4" width="14.1" height="10.8" fill="#87a7d0"/>
<text x="92.7" y="770.3" font-size="14.5" textLength="47.6" lengthAdjust="spacingAndGlyphs" fill="#0a0a0a" stroke="#0a0a0a" stroke-width="0.32">siRNA1</text>
<rect x="153.3" y="759.4" width="14.1" height="10.8" fill="#8989c4"/>
<text x="176.2" y="770.3" font-size="14.5" textLength="47.6" lengthAdjust="spacingAndGlyphs" fill="#0a0a0a" stroke="#0a0a0a" stroke-width="0.32">siRNA2</text>
<rect x="235.4" y="759.4" width="14.1" height="10.8" fill="#bc7a9c"/>
<text x="257.8" y="770.3" font-size="14.5" textLength="47.9" lengthAdjust="spacingAndGlyphs" fill="#0a0a0a" stroke="#0a0a0a" stroke-width="0.32">siRNA3</text>
<text x="262.4" y="1014.8" font-size="14.5" text-anchor="middle" fill="#0a0a0a" stroke="#0a0a0a" stroke-width="0.32">RCN2</text>
<text x="22" y="859.9" font-size="18.2" font-weight="bold" text-anchor="middle" textLength="191.9" lengthAdjust="spacingAndGlyphs" transform="rotate(-90 22 859.9)" fill="#0a0a0a" stroke="#0a0a0a" stroke-width="0.32" dominant-baseline="auto" dy="5.46">Relative gene expression</text>
<rect x="94.2" y="1192.4" width="54.9" height="128.3" fill="#f9b876"/>
<rect x="165.7" y="1192" width="54.9" height="128.7" fill="#9e9fa4"/>
<rect x="237.1" y="1221" width="54.9" height="99.7" fill="#87a7d0"/>
<rect x="308.6" y="1230" width="54.7" height="90.7" fill="#8989c4"/>
<rect x="379.9" y="1231.2" width="54.9" height="89.5" fill="#bc7a9c"/>
<line x1="121.6" y1="1183.4" x2="121.6" y2="1192.9" stroke="#333" stroke-width="1.55"/>
<line x1="107.8" y1="1183.4" x2="135.4" y2="1183.4" stroke="#333" stroke-width="1.55"/>
<line x1="193.2" y1="1178.5" x2="193.2" y2="1192.5" stroke="#333" stroke-width="1.55"/>
<line x1="179.4" y1="1178.5" x2="207" y2="1178.5" stroke="#333" stroke-width="1.55"/>
<line x1="264.5" y1="1208.3" x2="264.5" y2="1221.5" stroke="#333" stroke-width="1.55"/>
<line x1="250.7" y1="1208.3" x2="278.3" y2="1208.3" stroke="#333" stroke-width="1.55"/>
<line x1="335.9" y1="1224.9" x2="335.9" y2="1230.5" stroke="#333" stroke-width="1.55"/>
<line x1="322.1" y1="1224.9" x2="349.7" y2="1224.9" stroke="#333" stroke-width="1.55"/>
<line x1="407.2" y1="1217.3" x2="407.2" y2="1231.7" stroke="#333" stroke-width="1.55"/>
<line x1="393.4" y1="1217.3" x2="421" y2="1217.3" stroke="#333" stroke-width="1.55"/>
<line x1="121.6" y1="1129" x2="407.2" y2="1129" stroke="#2a2a2a" stroke-width="1.75"/>
<line x1="121.6" y1="1147.1" x2="335.9" y2="1147.1" stroke="#2a2a2a" stroke-width="1.75"/>
<line x1="121.6" y1="1164.1" x2="264.5" y2="1164.1" stroke="#2a2a2a" stroke-width="1.75"/>
<text x="264.5" y="1126.1" font-size="9.5" font-weight="bold" text-anchor="middle" fill="#0a0a0a" stroke="#0a0a0a" stroke-width="0.32">*</text>
<text x="229.4" y="1144.1" font-size="9.5" font-weight="bold" text-anchor="middle" fill="#0a0a0a" stroke="#0a0a0a" stroke-width="0.32">**</text>
<text x="193.3" y="1161.4" font-size="9.5" font-weight="bold" text-anchor="middle" fill="#0a0a0a" stroke="#0a0a0a" stroke-width="0.32">*</text>
<rect x="67.1" y="1057" width="395.5" height="263.7" fill="none" stroke="#000" stroke-width="2"/>
<line x1="61" y1="1057" x2="67.1" y2="1057" stroke="#000" stroke-width="1.9"/>
<text x="59.1" y="1062.9" font-size="15.6" font-weight="bold" text-anchor="end" textLength="21.76" lengthAdjust="spacingAndGlyphs" fill="#0a0a0a" stroke="#0a0a0a" stroke-width="0.32">400</text>
<line x1="61" y1="1122.9" x2="67.1" y2="1122.9" stroke="#000" stroke-width="1.9"/>
<text x="59.1" y="1128.8" font-size="15.6" font-weight="bold" text-anchor="end" textLength="21.76" lengthAdjust="spacingAndGlyphs" fill="#0a0a0a" stroke="#0a0a0a" stroke-width="0.32">300</text>
<line x1="61" y1="1188.85" x2="67.1" y2="1188.85" stroke="#000" stroke-width="1.9"/>
<text x="59.1" y="1194.75" font-size="15.6" font-weight="bold" text-anchor="end" textLength="21.76" lengthAdjust="spacingAndGlyphs" fill="#0a0a0a" stroke="#0a0a0a" stroke-width="0.32">200</text>
<line x1="61" y1="1254.8" x2="67.1" y2="1254.8" stroke="#000" stroke-width="1.9"/>
<text x="59.1" y="1260.7" font-size="15.6" font-weight="bold" text-anchor="end" textLength="21.76" lengthAdjust="spacingAndGlyphs" fill="#0a0a0a" stroke="#0a0a0a" stroke-width="0.32">100</text>
<line x1="61" y1="1320.7" x2="67.1" y2="1320.7" stroke="#000" stroke-width="1.9"/>
<text x="59.1" y="1326.6" font-size="15.6" font-weight="bold" text-anchor="end" textLength="7.25" lengthAdjust="spacingAndGlyphs" fill="#0a0a0a" stroke="#0a0a0a" stroke-width="0.32">0</text>
<line x1="64.1" y1="1089.95" x2="67.1" y2="1089.95" stroke="#000" stroke-width="1.9"/>
<line x1="64.1" y1="1155.88" x2="67.1" y2="1155.88" stroke="#000" stroke-width="1.9"/>
<line x1="64.1" y1="1221.82" x2="67.1" y2="1221.82" stroke="#000" stroke-width="1.9"/>
<line x1="64.1" y1="1287.75" x2="67.1" y2="1287.75" stroke="#000" stroke-width="1.9"/>
<rect x="72.2" y="1063.6" width="14.2" height="10.5" fill="#f9b876"/>
<text x="94.7" y="1073.8" font-size="14.5" textLength="44.9" lengthAdjust="spacingAndGlyphs" fill="#0a0a0a" stroke="#0a0a0a" stroke-width="0.32">Control</text>
<rect x="155" y="1063.6" width="14.1" height="10.5" fill="#9e9fa4"/>
<text x="177.4" y="1073.8" font-size="14.5" textLength="96.7" lengthAdjust="spacingAndGlyphs" fill="#0a0a0a" stroke="#0a0a0a" stroke-width="0.32">Negative control</text>
<rect x="72.2" y="1084.8" width="14.2" height="10.5" fill="#87a7d0"/>
<text x="94.7" y="1095.3" font-size="14.5" textLength="47.3" lengthAdjust="spacingAndGlyphs" fill="#0a0a0a" stroke="#0a0a0a" stroke-width="0.32">siRNA1</text>
<rect x="155" y="1084.8" width="14.1" height="10.5" fill="#8989c4"/>
<text x="177.4" y="1095.3" font-size="14.5" textLength="47.6" lengthAdjust="spacingAndGlyphs" fill="#0a0a0a" stroke="#0a0a0a" stroke-width="0.32">siRNA2</text>
<rect x="234.9" y="1084.8" width="14.1" height="10.5" fill="#bc7a9c"/>
<text x="257.4" y="1095.3" font-size="14.5" textLength="48" lengthAdjust="spacingAndGlyphs" fill="#0a0a0a" stroke="#0a0a0a" stroke-width="0.32">siRNA3</text>
<text x="264.4" y="1341.3" font-size="14.5" text-anchor="middle" fill="#0a0a0a" stroke="#0a0a0a" stroke-width="0.32">RCN2</text>
<text x="19.5" y="1186.2" font-size="18.2" font-weight="bold" text-anchor="middle" textLength="180.4" lengthAdjust="spacingAndGlyphs" transform="rotate(-90 19.5 1186.2)" fill="#0a0a0a" stroke="#0a0a0a" stroke-width="0.32" dominant-baseline="auto" dy="5.46">Concentration (pg/mL)</text>
<rect x="605.4" y="862.5" width="64.5" height="131.6" fill="#a9d6a9"/>
<rect x="688.4" y="821.8" width="64" height="172.3" fill="#8db6df"/>
<line x1="637.5" y1="858.9" x2="637.5" y2="863" stroke="#333" stroke-width="1.55"/>
<line x1="621.5" y1="858.9" x2="653.5" y2="858.9" stroke="#333" stroke-width="1.55"/>
<line x1="720.2" y1="814.9" x2="720.2" y2="822.3" stroke="#333" stroke-width="1.55"/>
<line x1="704.2" y1="814.9" x2="736.2" y2="814.9" stroke="#333" stroke-width="1.55"/>
<line x1="637.5" y1="800.1" x2="720.2" y2="800.1" stroke="#2a2a2a" stroke-width="1.75"/>
<text x="679.1" y="797.1" font-size="9.5" font-weight="bold" text-anchor="middle" fill="#0a0a0a" stroke="#0a0a0a" stroke-width="0.32">**</text>
<rect x="573.9" y="730.4" width="211.1" height="263.7" fill="none" stroke="#000" stroke-width="2"/>
<line x1="567.8" y1="730.4" x2="573.9" y2="730.4" stroke="#000" stroke-width="1.9"/>
<text x="565.9" y="736.3" font-size="15.6" font-weight="bold" text-anchor="end" textLength="18.14" lengthAdjust="spacingAndGlyphs" fill="#0a0a0a" stroke="#0a0a0a" stroke-width="0.32">2.0</text>
<line x1="567.8" y1="796.3" x2="573.9" y2="796.3" stroke="#000" stroke-width="1.9"/>
<text x="565.9" y="802.2" font-size="15.6" font-weight="bold" text-anchor="end" textLength="18.14" lengthAdjust="spacingAndGlyphs" fill="#0a0a0a" stroke="#0a0a0a" stroke-width="0.32">1.5</text>
<line x1="567.8" y1="862.3" x2="573.9" y2="862.3" stroke="#000" stroke-width="1.9"/>
<text x="565.9" y="868.2" font-size="15.6" font-weight="bold" text-anchor="end" textLength="18.14" lengthAdjust="spacingAndGlyphs" fill="#0a0a0a" stroke="#0a0a0a" stroke-width="0.32">1.0</text>
<line x1="567.8" y1="928.2" x2="573.9" y2="928.2" stroke="#000" stroke-width="1.9"/>
<text x="565.9" y="934.1" font-size="15.6" font-weight="bold" text-anchor="end" textLength="18.14" lengthAdjust="spacingAndGlyphs" fill="#0a0a0a" stroke="#0a0a0a" stroke-width="0.32">0.5</text>
<line x1="567.8" y1="994.1" x2="573.9" y2="994.1" stroke="#000" stroke-width="1.9"/>
<text x="565.9" y="1000" font-size="15.6" font-weight="bold" text-anchor="end" textLength="18.14" lengthAdjust="spacingAndGlyphs" fill="#0a0a0a" stroke="#0a0a0a" stroke-width="0.32">0.0</text>
<line x1="570.9" y1="763.35" x2="573.9" y2="763.35" stroke="#000" stroke-width="1.9"/>
<line x1="570.9" y1="829.3" x2="573.9" y2="829.3" stroke="#000" stroke-width="1.9"/>
<line x1="570.9" y1="895.25" x2="573.9" y2="895.25" stroke="#000" stroke-width="1.9"/>
<line x1="570.9" y1="961.15" x2="573.9" y2="961.15" stroke="#000" stroke-width="1.9"/>
<rect x="578.8" y="736.1" width="14.4" height="11" fill="#a9d6a9"/>
<text x="601" y="746.9" font-size="14.5" textLength="44.7" lengthAdjust="spacingAndGlyphs" fill="#0a0a0a" stroke="#0a0a0a" stroke-width="0.32">Control</text>
<rect x="578.8" y="754.7" width="14.4" height="10.8" fill="#8db6df"/>
<text x="601" y="765.9" font-size="14.5" textLength="48.9" lengthAdjust="spacingAndGlyphs" fill="#0a0a0a" stroke="#0a0a0a" stroke-width="0.32">siRNA2</text>
<text x="678.2" y="1014.8" font-size="14.5" text-anchor="middle" fill="#0a0a0a" stroke="#0a0a0a" stroke-width="0.32">NFAT1</text>
<text x="516.1" y="860.2" font-size="18.2" font-weight="bold" text-anchor="middle" textLength="191.1" lengthAdjust="spacingAndGlyphs" transform="rotate(-90 516.1 860.2)" fill="#0a0a0a" stroke="#0a0a0a" stroke-width="0.32" dominant-baseline="auto" dy="5.46">Relative gene expression</text>
<rect x="978.4" y="1149" width="63.9" height="171.7" fill="#8db6df"/>
<rect x="1060.9" y="1132.4" width="64.4" height="188.3" fill="#f29b9b"/>
<line x1="1010.2" y1="1146.8" x2="1010.2" y2="1149.5" stroke="#333" stroke-width="1.55"/>
<line x1="994.2" y1="1146.8" x2="1026.2" y2="1146.8" stroke="#333" stroke-width="1.55"/>
<line x1="1093.1" y1="1130" x2="1093.1" y2="1132.9" stroke="#333" stroke-width="1.55"/>
<line x1="1077.1" y1="1130" x2="1109.1" y2="1130" stroke="#333" stroke-width="1.55"/>
<line x1="1010.2" y1="1119.5" x2="1093.4" y2="1119.5" stroke="#2a2a2a" stroke-width="1.75"/>
<text x="1052.8" y="1116.3" font-size="9.5" font-weight="bold" text-anchor="middle" fill="#0a0a0a" stroke="#0a0a0a" stroke-width="0.32">***</text>
<rect x="946.8" y="1057" width="211.1" height="263.7" fill="none" stroke="#000" stroke-width="2"/>
<line x1="940.7" y1="1057" x2="946.8" y2="1057" stroke="#000" stroke-width="1.9"/>
<text x="938.8" y="1062.9" font-size="15.6" font-weight="bold" text-anchor="end" textLength="14.51" lengthAdjust="spacingAndGlyphs" fill="#0a0a0a" stroke="#0a0a0a" stroke-width="0.32">30</text>
<line x1="940.7" y1="1144.9" x2="946.8" y2="1144.9" stroke="#000" stroke-width="1.9"/>
<text x="938.8" y="1150.8" font-size="15.6" font-weight="bold" text-anchor="end" textLength="14.51" lengthAdjust="spacingAndGlyphs" fill="#0a0a0a" stroke="#0a0a0a" stroke-width="0.32">20</text>
<line x1="940.7" y1="1232.8" x2="946.8" y2="1232.8" stroke="#000" stroke-width="1.9"/>
<text x="938.8" y="1238.7" font-size="15.6" font-weight="bold" text-anchor="end" textLength="14.51" lengthAdjust="spacingAndGlyphs" fill="#0a0a0a" stroke="#0a0a0a" stroke-width="0.32">10</text>
<line x1="940.7" y1="1320.7" x2="946.8" y2="1320.7" stroke="#000" stroke-width="1.9"/>
<text x="938.8" y="1326.6" font-size="15.6" font-weight="bold" text-anchor="end" textLength="7.25" lengthAdjust="spacingAndGlyphs" fill="#0a0a0a" stroke="#0a0a0a" stroke-width="0.32">0</text>
<line x1="943.8" y1="1100.95" x2="946.8" y2="1100.95" stroke="#000" stroke-width="1.9"/>
<line x1="943.8" y1="1188.85" x2="946.8" y2="1188.85" stroke="#000" stroke-width="1.9"/>
<line x1="943.8" y1="1276.75" x2="946.8" y2="1276.75" stroke="#000" stroke-width="1.9"/>
<rect x="951.8" y="1063.1" width="14.1" height="10.7" fill="#8db6df"/>
<text x="974.2" y="1073.8" font-size="14.5" textLength="44.4" lengthAdjust="spacingAndGlyphs" fill="#0a0a0a" stroke="#0a0a0a" stroke-width="0.32">Control</text>
<rect x="951.8" y="1081.4" width="14.1" height="10.7" fill="#f29b9b"/>
<text x="974.2" y="1092.1" font-size="14.5" textLength="48.1" lengthAdjust="spacingAndGlyphs" fill="#0a0a0a" stroke="#0a0a0a" stroke-width="0.32">siRNA2</text>
<text x="1051.8" y="1341.3" font-size="14.5" text-anchor="middle" fill="#0a0a0a" stroke="#0a0a0a" stroke-width="0.32">SOX9</text>
<text x="906.4" y="1186.2" font-size="18.2" font-weight="bold" text-anchor="middle" textLength="180.4" lengthAdjust="spacingAndGlyphs" transform="rotate(-90 906.4 1186.2)" fill="#0a0a0a" stroke="#0a0a0a" stroke-width="0.32" dominant-baseline="auto" dy="5.46">Concentration (ng/mL)</text>
<rect x="604" y="1187.3" width="63.4" height="47.1" fill="#a9d6a9"/>
<rect x="604" y="1244.9" width="63.4" height="75.8" fill="#a9d6a9"/>
<rect x="686.9" y="1136.3" width="64" height="98.1" fill="#8db6df"/>
<rect x="686.9" y="1244.9" width="64" height="75.8" fill="#8db6df"/>
<line x1="635.9" y1="1178.5" x2="635.9" y2="1187.8" stroke="#333" stroke-width="1.55"/>
<line x1="619.9" y1="1178.5" x2="651.9" y2="1178.5" stroke="#333" stroke-width="1.55"/>
<line x1="718.9" y1="1130.7" x2="718.9" y2="1136.8" stroke="#333" stroke-width="1.55"/>
<line x1="702.9" y1="1130.7" x2="734.9" y2="1130.7" stroke="#333" stroke-width="1.55"/>
<line x1="635.9" y1="1120.2" x2="718.4" y2="1120.2" stroke="#2a2a2a" stroke-width="1.75"/>
<text x="677.9" y="1117.5" font-size="9.5" font-weight="bold" text-anchor="middle" fill="#0a0a0a" stroke="#0a0a0a" stroke-width="0.32">***</text>
<path d="M572.3 1235.8 V1057 H783.2 V1320.7 H572.3 V1243.2" fill="none" stroke="#000" stroke-width="2" stroke-linejoin="miter"/>
<line x1="568.5" y1="1239.4" x2="576.5" y2="1232.4" stroke="#000" stroke-width="1.7"/>
<line x1="568.5" y1="1247.1" x2="576.5" y2="1240.1" stroke="#000" stroke-width="1.7"/>
<line x1="566.2" y1="1057" x2="572.3" y2="1057" stroke="#000" stroke-width="1.9"/>
<text x="564.3" y="1062.9" font-size="15.6" font-weight="bold" text-anchor="end" textLength="29.02" lengthAdjust="spacingAndGlyphs" fill="#0a0a0a" stroke="#0a0a0a" stroke-width="0.32">2500</text>
<line x1="566.2" y1="1092.7" x2="572.3" y2="1092.7" stroke="#000" stroke-width="1.9"/>
<text x="564.3" y="1098.6" font-size="15.6" font-weight="bold" text-anchor="end" textLength="29.02" lengthAdjust="spacingAndGlyphs" fill="#0a0a0a" stroke="#0a0a0a" stroke-width="0.32">2400</text>
<line x1="566.2" y1="1128.2" x2="572.3" y2="1128.2" stroke="#000" stroke-width="1.9"/>
<text x="564.3" y="1134.1" font-size="15.6" font-weight="bold" text-anchor="end" textLength="29.02" lengthAdjust="spacingAndGlyphs" fill="#0a0a0a" stroke="#0a0a0a" stroke-width="0.32">2300</text>
<line x1="566.2" y1="1163.6" x2="572.3" y2="1163.6" stroke="#000" stroke-width="1.9"/>
<text x="564.3" y="1169.5" font-size="15.6" font-weight="bold" text-anchor="end" textLength="29.02" lengthAdjust="spacingAndGlyphs" fill="#0a0a0a" stroke="#0a0a0a" stroke-width="0.32">2200</text>
<line x1="566.2" y1="1199" x2="572.3" y2="1199" stroke="#000" stroke-width="1.9"/>
<text x="564.3" y="1204.9" font-size="15.6" font-weight="bold" text-anchor="end" textLength="29.02" lengthAdjust="spacingAndGlyphs" fill="#0a0a0a" stroke="#0a0a0a" stroke-width="0.32">2100</text>
<line x1="569.3" y1="1074.85" x2="572.3" y2="1074.85" stroke="#000" stroke-width="1.9"/>
<line x1="569.3" y1="1110.45" x2="572.3" y2="1110.45" stroke="#000" stroke-width="1.9"/>
<line x1="569.3" y1="1145.9" x2="572.3" y2="1145.9" stroke="#000" stroke-width="1.9"/>
<line x1="569.3" y1="1181.3" x2="572.3" y2="1181.3" stroke="#000" stroke-width="1.9"/>
<line x1="569.3" y1="1216.7" x2="572.3" y2="1216.7" stroke="#000" stroke-width="1.9"/>
<text x="564.1" y="1239" font-size="12.9" font-weight="bold" text-anchor="end" textLength="28.38" lengthAdjust="spacingAndGlyphs" fill="#0a0a0a" stroke="#0a0a0a" stroke-width="0.32">2000</text>
<line x1="566.2" y1="1283" x2="572.3" y2="1283" stroke="#000" stroke-width="1.9"/>
<text x="564.3" y="1288.9" font-size="15.6" font-weight="bold" text-anchor="end" textLength="29.02" lengthAdjust="spacingAndGlyphs" fill="#0a0a0a" stroke="#0a0a0a" stroke-width="0.32">1000</text>
<line x1="566.2" y1="1320.7" x2="572.3" y2="1320.7" stroke="#000" stroke-width="1.9"/>
<text x="564.3" y="1326.6" font-size="15.6" font-weight="bold" text-anchor="end" textLength="7.25" lengthAdjust="spacingAndGlyphs" fill="#0a0a0a" stroke="#0a0a0a" stroke-width="0.32">0</text>
<line x1="569.3" y1="1264" x2="572.3" y2="1264" stroke="#000" stroke-width="1.9"/>
<line x1="569.3" y1="1301.8" x2="572.3" y2="1301.8" stroke="#000" stroke-width="1.9"/>
<text x="564.1" y="1249.6" font-size="12.9" font-weight="bold" text-anchor="end" textLength="28.38" lengthAdjust="spacingAndGlyphs" fill="#0a0a0a" stroke="#0a0a0a" stroke-width="0.32">2000</text>
<rect x="577.4" y="1063.1" width="14.1" height="10.7" fill="#a9d6a9"/>
<text x="599.8" y="1073.8" font-size="14.5" textLength="44.4" lengthAdjust="spacingAndGlyphs" fill="#0a0a0a" stroke="#0a0a0a" stroke-width="0.32">Control</text>
<rect x="577.4" y="1081.4" width="14.1" height="10.7" fill="#8db6df"/>
<text x="599.8" y="1092.1" font-size="14.5" textLength="48.3" lengthAdjust="spacingAndGlyphs" fill="#0a0a0a" stroke="#0a0a0a" stroke-width="0.32">siRNA2</text>
<text x="677" y="1341.3" font-size="14.5" text-anchor="middle" fill="#0a0a0a" stroke="#0a0a0a" stroke-width="0.32">NFAT1</text>
<text x="516.8" y="1186" font-size="18.2" font-weight="bold" text-anchor="middle" textLength="179.9" lengthAdjust="spacingAndGlyphs" transform="rotate(-90 516.8 1186)" fill="#0a0a0a" stroke="#0a0a0a" stroke-width="0.32" dominant-baseline="auto" dy="5.46">Concentration (pg/mL)</text>
<line x1="892.1" y1="953.3" x2="1222.6" y2="953.3" stroke="#222" stroke-width="1.5" stroke-dasharray="1.5 4.5"/>
<rect x="903.2" y="953.7" width="31.8" height="35" fill="#8db6df"/>
<rect x="945" y="859.4" width="31.9" height="42.5" fill="#f29b9b"/>
<rect x="945" y="917.6" width="31.9" height="71.1" fill="#f29b9b"/>
<rect x="1019" y="953.7" width="31.9" height="35" fill="#8db6df"/>
<rect x="1060.4" y="950.8" width="32.2" height="37.9" fill="#f29b9b"/>
<rect x="1134.8" y="953.7" width="31.7" height="35" fill="#8db6df"/>
<rect x="1176.3" y="842.3" width="32.2" height="59.6" fill="#f29b9b"/>
<rect x="1176.3" y="917.6" width="32.2" height="71.1" fill="#f29b9b"/>
<line x1="919" y1="952.8" x2="919" y2="953.8" stroke="#2a2a2a" stroke-width="1.7"/>
<line x1="911.3" y1="952.8" x2="926.7" y2="952.8" stroke="#2a2a2a" stroke-width="1.7"/>
<line x1="961" y1="858.6" x2="961" y2="859.9" stroke="#2a2a2a" stroke-width="1.7"/>
<line x1="953.3" y1="858.6" x2="968.7" y2="858.6" stroke="#2a2a2a" stroke-width="1.7"/>
<line x1="1034.9" y1="950.4" x2="1034.9" y2="953.8" stroke="#2a2a2a" stroke-width="1.7"/>
<line x1="1027.2" y1="950.4" x2="1042.6" y2="950.4" stroke="#2a2a2a" stroke-width="1.7"/>
<line x1="1076.8" y1="941.4" x2="1076.8" y2="950.9" stroke="#2a2a2a" stroke-width="1.7"/>
<line x1="1069.1" y1="941.4" x2="1084.5" y2="941.4" stroke="#2a2a2a" stroke-width="1.7"/>
<line x1="1150.5" y1="953" x2="1150.5" y2="953.8" stroke="#2a2a2a" stroke-width="1.7"/>
<line x1="1142.8" y1="953" x2="1158.2" y2="953" stroke="#2a2a2a" stroke-width="1.7"/>
<line x1="1192.5" y1="841.8" x2="1192.5" y2="842.8" stroke="#2a2a2a" stroke-width="1.7"/>
<line x1="1184.8" y1="841.8" x2="1200.2" y2="841.8" stroke="#2a2a2a" stroke-width="1.7"/>
<line x1="919.1" y1="845.2" x2="960.8" y2="845.2" stroke="#000" stroke-width="1.9"/>
<text x="940.6" y="842.3" font-size="12.5" font-weight="bold" text-anchor="middle" fill="#0a0a0a" stroke="#0a0a0a" stroke-width="0.32">***</text>
<line x1="1150.6" y1="829.3" x2="1192.1" y2="829.3" stroke="#000" stroke-width="1.9"/>
<text x="1171.9" y="826.4" font-size="12.5" font-weight="bold" text-anchor="middle" fill="#0a0a0a" stroke="#0a0a0a" stroke-width="0.32">***</text>
<line x1="1034.8" y1="928.2" x2="1076.6" y2="928.2" stroke="#000" stroke-width="1.9"/>
<text x="1055.5" y="919.8" font-size="9.5" text-anchor="middle" fill="#0a0a0a" stroke="#0a0a0a" stroke-width="0.32">ns</text>
<path d="M887.1 902.4 V735.9 H1225.6 V988.7 H887.1 V916.6" fill="none" stroke="#000" stroke-width="2" stroke-linejoin="miter"/>
<line x1="881" y1="908.5" x2="892.8" y2="897.5" stroke="#000" stroke-width="1.9"/>
<line x1="881" y1="922.3" x2="892.8" y2="911.3" stroke="#000" stroke-width="1.9"/>
<line x1="877.8" y1="735.9" x2="887.1" y2="735.9" stroke="#000" stroke-width="1.9"/>
<text x="874.8" y="741.8" font-size="15.8" font-weight="bold" text-anchor="end" textLength="15.01" lengthAdjust="spacingAndGlyphs" fill="#0a0a0a" stroke="#0a0a0a" stroke-width="0.32">30</text>
<line x1="877.8" y1="777.6" x2="887.1" y2="777.6" stroke="#000" stroke-width="1.9"/>
<text x="874.8" y="783.5" font-size="15.8" font-weight="bold" text-anchor="end" textLength="15.01" lengthAdjust="spacingAndGlyphs" fill="#0a0a0a" stroke="#0a0a0a" stroke-width="0.32">25</text>
<line x1="877.8" y1="818.9" x2="887.1" y2="818.9" stroke="#000" stroke-width="1.9"/>
<text x="874.8" y="824.8" font-size="15.8" font-weight="bold" text-anchor="end" textLength="15.01" lengthAdjust="spacingAndGlyphs" fill="#0a0a0a" stroke="#0a0a0a" stroke-width="0.32">20</text>
<line x1="877.8" y1="860.3" x2="887.1" y2="860.3" stroke="#000" stroke-width="1.9"/>
<text x="874.8" y="866.2" font-size="15.8" font-weight="bold" text-anchor="end" textLength="15.01" lengthAdjust="spacingAndGlyphs" fill="#0a0a0a" stroke="#0a0a0a" stroke-width="0.32">15</text>
<text x="874.8" y="907.7" font-size="15.8" font-weight="bold" text-anchor="end" textLength="15.01" lengthAdjust="spacingAndGlyphs" fill="#0a0a0a" stroke="#0a0a0a" stroke-width="0.32">10</text>
<text x="874.8" y="923.6" font-size="15.8" font-weight="bold" text-anchor="end" textLength="18.76" lengthAdjust="spacingAndGlyphs" fill="#0a0a0a" stroke="#0a0a0a" stroke-width="0.32">2.0</text>
<line x1="877.8" y1="935.7" x2="887.1" y2="935.7" stroke="#000" stroke-width="1.9"/>
<text x="874.8" y="941.6" font-size="15.8" font-weight="bold" text-anchor="end" textLength="18.76" lengthAdjust="spacingAndGlyphs" fill="#0a0a0a" stroke="#0a0a0a" stroke-width="0.32">1.5</text>
<line x1="877.8" y1="953.3" x2="887.1" y2="953.3" stroke="#000" stroke-width="1.9"/>
<text x="874.8" y="959.2" font-size="15.8" font-weight="bold" text-anchor="end" textLength="7.5" lengthAdjust="spacingAndGlyphs" fill="#0a0a0a" stroke="#0a0a0a" stroke-width="0.32">1</text>
<line x1="877.8" y1="970.9" x2="887.1" y2="970.9" stroke="#000" stroke-width="1.9"/>
<text x="874.8" y="976.8" font-size="15.8" font-weight="bold" text-anchor="end" textLength="18.76" lengthAdjust="spacingAndGlyphs" fill="#0a0a0a" stroke="#0a0a0a" stroke-width="0.32">0.5</text>
<line x1="877.8" y1="988.6" x2="887.1" y2="988.6" stroke="#000" stroke-width="1.9"/>
<text x="874.8" y="994.5" font-size="15.8" font-weight="bold" text-anchor="end" textLength="18.76" lengthAdjust="spacingAndGlyphs" fill="#0a0a0a" stroke="#0a0a0a" stroke-width="0.32">0.0</text>
<rect x="894.9" y="743.9" width="23.2" height="11" fill="#8db6df"/>
<text x="931.3" y="755.6" font-size="17.5" textLength="53.2" lengthAdjust="spacingAndGlyphs" fill="#0a0a0a" stroke="#0a0a0a" stroke-width="0.32">Control</text>
<rect x="894.9" y="769.1" width="23.2" height="10.9" fill="#f29b9b"/>
<text x="931.3" y="780.5" font-size="17.5" textLength="54.9" lengthAdjust="spacingAndGlyphs" fill="#0a0a0a" stroke="#0a0a0a" stroke-width="0.32">siRNA2</text>
<text x="940" y="1013.6" font-size="14.7" text-anchor="middle" fill="#0a0a0a" stroke="#0a0a0a" stroke-width="0.32">COL II</text>
<text x="1055.5" y="1013.6" font-size="14.7" text-anchor="middle" fill="#0a0a0a" stroke="#0a0a0a" stroke-width="0.32">AGG</text>
<text x="1171.5" y="1013.6" font-size="14.7" text-anchor="middle" fill="#0a0a0a" stroke="#0a0a0a" stroke-width="0.32">SOX 9</text>
<text x="840.5" y="862.3" font-size="17.6" font-weight="bold" text-anchor="middle" textLength="183" lengthAdjust="spacingAndGlyphs" transform="rotate(-90 840.5 862.3)" fill="#0a0a0a" stroke="#0a0a0a" stroke-width="0.32" dominant-baseline="auto" dy="5.28">Relative gene expression</text>
</svg>
</body></html>
